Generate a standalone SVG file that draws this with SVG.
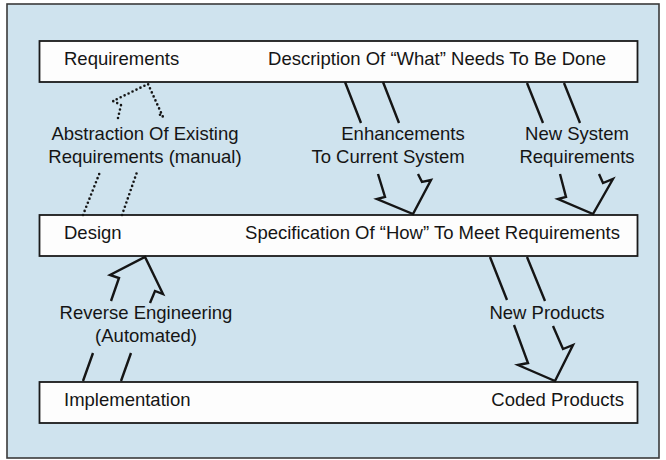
<svg xmlns="http://www.w3.org/2000/svg" width="666" height="460" viewBox="0 0 666 460">
  <style>
    .box { fill: #fdfdfd; stroke: #1a1a1a; stroke-width: 1.8; }
    .t { font-family: "Liberation Sans", Arial, sans-serif; font-size: 18.5px; fill: #151515; }
    .c { text-anchor: middle; }
    .e { text-anchor: end; }
    .arw { fill: none; stroke: #151515; stroke-width: 2.4; stroke-linejoin: miter; stroke-linecap: butt; }
    .dot { fill: none; stroke: #151515; stroke-width: 2.6; stroke-dasharray: 0 4.4; stroke-linecap: round; stroke-linejoin: round; }
  </style>
  <rect x="0" y="0" width="666" height="460" fill="#ffffff"/>
  <rect x="7" y="4" width="652" height="454" fill="#cfe3ee" stroke="#3a3a3a" stroke-width="1.6"/>

  <g id="requirements">
    <rect class="box" x="39.5" y="41" width="598" height="41"/>
    <text class="t" x="64" y="65">Requirements</text>
    <text class="t e" x="606" y="65">Description Of “What” Needs To Be Done</text>
  </g>

  <g id="design">
    <rect class="box" x="39.5" y="215" width="598" height="41"/>
    <text class="t" x="64" y="239">Design</text>
    <text class="t e" x="620" y="239">Specification Of “How” To Meet Requirements</text>
  </g>

  <g id="implementation">
    <rect class="box" x="39.5" y="382" width="598" height="41"/>
    <text class="t" x="64" y="406">Implementation</text>
    <text class="t e" x="624" y="406">Coded Products</text>
  </g>

  <g id="connectors">
    <g id="abstraction">
      <path class="dot" d="M83,215 L100,172 M122,215 L137,172"/>
      <path class="dot" d="M118,118 L121,105 L113,101 L148,84 L163,117 L159,114"/>
      <text class="t c" x="145" y="140">Abstraction Of Existing</text>
      <text class="t c" x="145" y="163">Requirements (manual)</text>
    </g>
    <g id="enhancements">
      <path class="arw" d="M345,82 L361,123 M383,82 L399,123"/>
      <path class="arw" d="M378,174 L385,197 L377,199 L413,214 L431,180 L422,182 L418,174"/>
      <text class="t c" x="403" y="140">Enhancements</text>
      <text class="t c" x="388" y="163">To Current System</text>
    </g>
    <g id="new-system">
      <path class="arw" d="M527,83 L543,123 M564,83 L580,123"/>
      <path class="arw" d="M560,174 L566,197 L558,199 L593,214 L613,179 L603,183 L599,174"/>
      <text class="t c" x="577" y="140">New System</text>
      <text class="t c" x="577" y="163">Requirements</text>
    </g>
    <g id="reverse-engineering">
      <path class="arw" d="M83,381 L93,353 M121,381 L131,353"/>
      <path class="arw" d="M111,301 L119,278 L110,275 L145,257 L163,294 L155,291 L150,303"/>
      <text class="t c" x="146" y="319">Reverse Engineering</text>
      <text class="t c" x="146" y="342">(Automated)</text>
    </g>
    <g id="new-products">
      <path class="arw" d="M490,257 L507,300 M527,257 L545,301"/>
      <path class="arw" d="M514,325 L528,363 L518,365 L555,381 L573,345 L563,349 L553,326"/>
      <text class="t c" x="547" y="319">New Products</text>
    </g>
  </g>
</svg>
